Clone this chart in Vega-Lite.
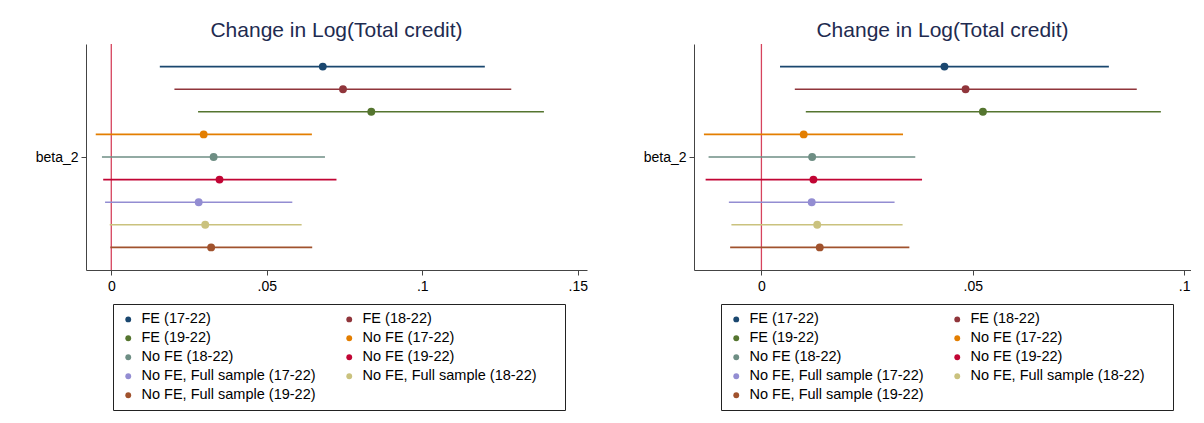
{
  "$schema": "https://vega.github.io/schema/vega-lite/v6.json",
  "background": "white",
  "padding": {"left": 4, "top": 20, "right": 0, "bottom": 0},
  "spacing": 24,
  "datasets": {
    "coefs": [
      {"panel": "A", "row": 1, "model": "FE (17-22)", "b": 0.0680, "lo": 0.0156, "hi": 0.1201},
      {"panel": "A", "row": 2, "model": "FE (18-22)", "b": 0.0745, "lo": 0.0203, "hi": 0.1286},
      {"panel": "A", "row": 3, "model": "FE (19-22)", "b": 0.0836, "lo": 0.0279, "hi": 0.1391},
      {"panel": "A", "row": 4, "model": "No FE (17-22)", "b": 0.0297, "lo": -0.0050, "hi": 0.0645},
      {"panel": "A", "row": 5, "model": "No FE (18-22)", "b": 0.0329, "lo": -0.0030, "hi": 0.0687},
      {"panel": "A", "row": 6, "model": "No FE (19-22)", "b": 0.0348, "lo": -0.0026, "hi": 0.0724},
      {"panel": "A", "row": 7, "model": "No FE, Full sample (17-22)", "b": 0.0281, "lo": -0.0020, "hi": 0.0582},
      {"panel": "A", "row": 8, "model": "No FE, Full sample (18-22)", "b": 0.0302, "lo": -0.0005, "hi": 0.0612},
      {"panel": "A", "row": 9, "model": "No FE, Full sample (19-22)", "b": 0.0321, "lo": -0.0003, "hi": 0.0646},
      {"panel": "B", "row": 1, "model": "FE (17-22)", "b": 0.0433, "lo": 0.0044, "hi": 0.0822},
      {"panel": "B", "row": 2, "model": "FE (18-22)", "b": 0.0483, "lo": 0.0079, "hi": 0.0888},
      {"panel": "B", "row": 3, "model": "FE (19-22)", "b": 0.0524, "lo": 0.0105, "hi": 0.0945},
      {"panel": "B", "row": 4, "model": "No FE (17-22)", "b": 0.0100, "lo": -0.0136, "hi": 0.0335},
      {"panel": "B", "row": 5, "model": "No FE (18-22)", "b": 0.0120, "lo": -0.0125, "hi": 0.0364},
      {"panel": "B", "row": 6, "model": "No FE (19-22)", "b": 0.0123, "lo": -0.0132, "hi": 0.0380},
      {"panel": "B", "row": 7, "model": "No FE, Full sample (17-22)", "b": 0.0119, "lo": -0.0077, "hi": 0.0315},
      {"panel": "B", "row": 8, "model": "No FE, Full sample (18-22)", "b": 0.0132, "lo": -0.0071, "hi": 0.0334},
      {"panel": "B", "row": 9, "model": "No FE, Full sample (19-22)", "b": 0.0138, "lo": -0.0074, "hi": 0.0350}
    ],
    "zero": [{"x": 0}]
  },
  "config": {
    "font": "Liberation Sans",
    "view": {"stroke": null},
    "title": {"fontSize": 21, "fontWeight": "normal", "color": "#1e2b50", "anchor": "middle", "offset": 2, "font": "Liberation Sans"},
    "axis": {
      "grid": false,
      "domainColor": "#444444",
      "domainWidth": 1,
      "tickColor": "#444444",
      "tickWidth": 1,
      "tickSize": 5,
      "labelColor": "#000000",
      "labelFontSize": 14,
      "labelFont": "Liberation Sans",
      "title": null
    },
    "legend": {
      "orient": "none",
      "legendX": 27,
      "legendY": 260,
      "columns": 2,
      "direction": "horizontal",
      "strokeColor": "#222222",
      "strokeWidth": 1,
      "fillColor": "#ffffff",
      "padding": 8,
      "rowPadding": 4,
      "columnPadding": 26,
      "labelFontSize": 14.5,
      "labelFont": "Liberation Sans",
      "labelColor": "#000000",
      "labelOffset": 6,
      "labelLimit": 300,
      "symbolType": "circle",
      "symbolSize": 34,
      "symbolStrokeWidth": 0,
      "symbolOpacity": 1,
      "title": " ",
      "titleOrient": "right",
      "titleFontSize": 1,
      "titlePadding": 20
    }
  },
  "resolve": {"scale": {"color": "independent"}, "legend": {"color": "independent"}},
  "hconcat": [
    {
      "title": "Change in Log(Total credit)",
      "width": 501,
      "height": 226,
      "layer": [
        {
          "data": {"name": "zero"},
          "mark": {"type": "rule", "color": "#d6435d", "strokeWidth": 1.3},
          "encoding": {
            "x": {"field": "x", "type": "quantitative", "scale": {"domain": [-0.00813, 0.15295], "nice": false, "zero": false}}
          }
        },
        {
          "data": {"name": "coefs"},
          "transform": [{"filter": "datum.panel == 'A'"}],
          "mark": {"type": "rule", "strokeWidth": 1.6},
          "encoding": {
            "x": {"field": "lo", "type": "quantitative", "scale": {"domain": [-0.00813, 0.15295], "nice": false, "zero": false},
              "axis": {"values": [0, 0.05, 0.1, 0.15], "labelExpr": "datum.value == 0 ? '0' : replace(format(datum.value, '.2~f'), '0.', '.')", "labelPadding": 4}},
            "x2": {"field": "hi"},
            "y": {"field": "row", "type": "quantitative", "scale": {"domain": [0, 10], "reverse": true, "nice": false, "zero": false},
              "axis": {"values": [5], "labelExpr": "'beta_2'", "minExtent": 82, "labelPadding": 3, "tickSize": 5}},
            "color": {"field": "model", "type": "nominal", "title": " ",
              "scale": {"domain": ["FE (17-22)", "FE (18-22)", "FE (19-22)", "No FE (17-22)", "No FE (18-22)", "No FE (19-22)", "No FE, Full sample (17-22)", "No FE, Full sample (18-22)", "No FE, Full sample (19-22)"],
                "range": ["#1a476f", "#90353b", "#55752f", "#e37e00", "#6e8e84", "#c10534", "#938dd2", "#cac27e", "#a0522d"]}}
          }
        },
        {
          "data": {"name": "coefs"},
          "transform": [{"filter": "datum.panel == 'A'"}],
          "mark": {"type": "point", "filled": true, "opacity": 1, "size": 62},
          "encoding": {
            "x": {"field": "b", "type": "quantitative"},
            "y": {"field": "row", "type": "quantitative"},
            "color": {"field": "model", "type": "nominal", "title": " "}
          }
        }
      ]
    },
    {
      "title": "Change in Log(Total credit)",
      "width": 497,
      "height": 226,
      "layer": [
        {
          "data": {"name": "zero"},
          "mark": {"type": "rule", "color": "#d6435d", "strokeWidth": 1.3},
          "encoding": {
            "x": {"field": "x", "type": "quantitative", "scale": {"domain": [-0.01595, 0.10163], "nice": false, "zero": false}}
          }
        },
        {
          "data": {"name": "coefs"},
          "transform": [{"filter": "datum.panel == 'B'"}],
          "mark": {"type": "rule", "strokeWidth": 1.6},
          "encoding": {
            "x": {"field": "lo", "type": "quantitative", "scale": {"domain": [-0.01595, 0.10163], "nice": false, "zero": false},
              "axis": {"values": [0, 0.05, 0.1], "labelExpr": "datum.value == 0 ? '0' : replace(format(datum.value, '.2~f'), '0.', '.')", "labelPadding": 4}},
            "x2": {"field": "hi"},
            "y": {"field": "row", "type": "quantitative", "scale": {"domain": [0, 10], "reverse": true, "nice": false, "zero": false},
              "axis": {"values": [5], "labelExpr": "'beta_2'", "minExtent": 82, "labelPadding": 3, "tickSize": 5}},
            "color": {"field": "model", "type": "nominal", "title": " ",
              "scale": {"domain": ["FE (17-22)", "FE (18-22)", "FE (19-22)", "No FE (17-22)", "No FE (18-22)", "No FE (19-22)", "No FE, Full sample (17-22)", "No FE, Full sample (18-22)", "No FE, Full sample (19-22)"],
                "range": ["#1a476f", "#90353b", "#55752f", "#e37e00", "#6e8e84", "#c10534", "#938dd2", "#cac27e", "#a0522d"]}}
          }
        },
        {
          "data": {"name": "coefs"},
          "transform": [{"filter": "datum.panel == 'B'"}],
          "mark": {"type": "point", "filled": true, "opacity": 1, "size": 62},
          "encoding": {
            "x": {"field": "b", "type": "quantitative"},
            "y": {"field": "row", "type": "quantitative"},
            "color": {"field": "model", "type": "nominal", "title": " "}
          }
        }
      ]
    }
  ]
}
